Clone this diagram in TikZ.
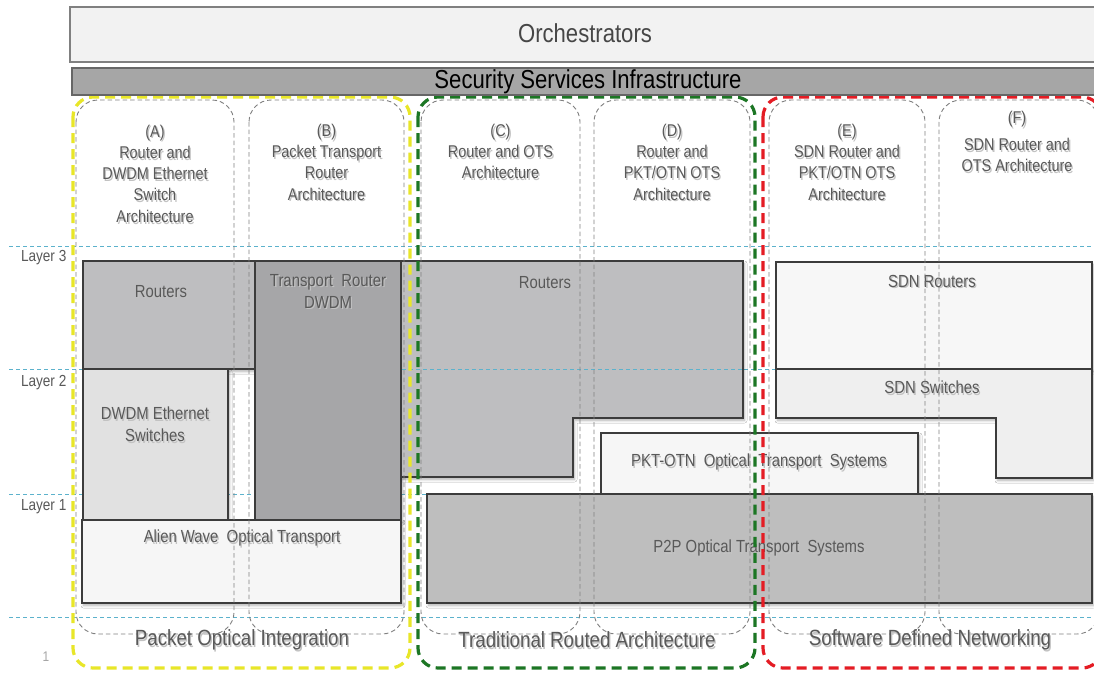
\documentclass[tikz,border=0pt]{standalone}
\usepackage{fontspec}
\setmainfont{Liberation Sans}[FakeStretch=0.85]
\usetikzlibrary{shadows,shadows.blur}

\definecolor{txtgray}{RGB}{89,89,89}
\definecolor{darktxt}{RGB}{70,70,70}
\definecolor{layerblue}{RGB}{92,178,204}
\definecolor{colgray}{RGB}{128,128,128}
\definecolor{boxline}{RGB}{60,60,60}
\definecolor{poiyellow}{RGB}{232,230,40}
\definecolor{tragreen}{RGB}{28,118,36}
\definecolor{sdnred}{RGB}{228,28,36}
\definecolor{orchfill}{RGB}{242,242,242}
\definecolor{secfill}{RGB}{166,166,166}
\definecolor{routerfill}{RGB}{190,190,192}
\definecolor{trfill}{RGB}{166,166,168}
\definecolor{ethfill}{RGB}{225,225,225}
\definecolor{palefill}{RGB}{246,246,246}
\definecolor{sdnrfill}{RGB}{247,247,247}
\definecolor{sdnsfill}{RGB}{239,239,239}
\definecolor{ptpfill}{RGB}{190,190,190}

% text with a soft offset shadow behind it
\newcommand\shd[1]{\leavevmode\rlap{\kern1.3pt\raisebox{-1.8pt}{\textcolor{black!24}{#1}}}#1}

\begin{document}
\begin{tikzpicture}[x=1pt,y=-1pt,
  every node/.style={inner sep=0pt,outer sep=0pt,text=txtgray},
  colbox/.style={draw=colgray,line width=0.9pt,dash pattern=on 4.5pt off 3pt,rounded corners=22pt},
  grpbox/.style={line width=3.2pt,dash pattern=on 10pt off 6pt,rounded corners=20pt},
  layerline/.style={draw=layerblue,line width=1pt,dash pattern=on 4pt off 3pt},
  blk/.style={draw=boxline,line width=1.2pt,
    blur shadow={shadow blur steps=6,shadow xshift=1.5pt,shadow yshift=-2.5pt,
      shadow blur radius=2.5pt,shadow opacity=30}},
  coltext/.style={align=center,font=\fontsize{17}{21.3}\selectfont},
  blktext/.style={align=center,font=\fontsize{17.5}{22}\selectfont},
  grptext/.style={font=\fontsize{22}{26}\selectfont},
  laytext/.style={anchor=west,font=\fontsize{16}{19}\selectfont},
  headtext/.style={font=\fontsize{26}{30}\selectfont}
]
\useasboundingbox (0,0) rectangle (1094,675);
\clip (0,0) rectangle (1094,675);
\fill[white] (0,0) rectangle (1094,675);

% layer guide lines
\foreach \yy in {246,369,494,617}
  \draw[layerline] (9,\yy) -- (1094,\yy);

% layer labels
\node[laytext] (lay3) at (21,258) {Layer 3};
\node[laytext] (lay2) at (21,383) {Layer 2};
\node[laytext] (lay1) at (21,507) {Layer 1};
\node[font=\fontsize{14}{16}\selectfont,text=black!35] (pnum) at (46,657) {1};

% network building blocks
\path[blk,fill=routerfill] (83,261) rectangle (255,369);
\node[blktext] (routersA) at (161,292) {\shd{Routers}};

\path[blk,fill=trfill] (255,261) rectangle (401,520);
\node[blktext] (transrt) at (328,292) {\shd{Transport~~Router}\\\shd{DWDM}};

\path[blk,fill=routerfill] (401,261) -- (743,261) -- (743,418) -- (573,418)
  -- (573,477) -- (401,477) -- cycle;
\draw[layerline] (402,369) -- (742,369);
\node[blktext] (routersC) at (545,283) {\shd{Routers}};

\path[blk,fill=sdnrfill] (776,262) rectangle (1092,369);
\node[blktext] (sdnrt) at (932,282) {\shd{SDN Routers}};

\path[blk,fill=sdnsfill] (776,369) -- (1092,369) -- (1092,478) -- (996,478)
  -- (996,418) -- (776,418) -- cycle;
\node[blktext] (sdnsw) at (932,388) {\shd{SDN Switches}};

\path[blk,fill=ethfill] (83,369) rectangle (228,520);
\node[blktext] (dwdmeth) at (155,425) {\shd{DWDM Ethernet}\\\shd{Switches}};

\path[blk,fill=palefill] (601,433) rectangle (918,494);
\node[blktext] (pktotn) at (759,463) {\shd{PKT-OTN~~Optical~~Transport~~Systems}};

\path[blk,fill=palefill] (82,520) rectangle (401,603);
\node[blktext] (alien) at (242,539) {\shd{Alien Wave~~Optical Transport}};

\path[blk,fill=ptpfill] (427,494) rectangle (1092,603);
\node[blktext] (ptp) at (759,549) {\shd{P2P Optical Transport~~Systems}};

% architecture columns
\foreach \xa/\xb in {76/234,249/404,421/580,594/750,769/925,939/1099}
  \draw[colbox] (\xa,100) rectangle (\xb,634);

\node[coltext] (hA) at (155,174.5) {\shd{(A)}\\\shd{Router and}\\\shd{DWDM Ethernet}\\\shd{Switch}\\\shd{Architecture}};
\node[coltext] (hB) at (326.5,163) {\shd{(B)}\\\shd{Packet Transport}\\\shd{Router}\\\shd{Architecture}};
\node[coltext] (hC) at (500.5,152.5) {\shd{(C)}\\\shd{Router and OTS}\\\shd{Architecture}};
\node[coltext] (hD) at (672,163) {\shd{(D)}\\\shd{Router and}\\\shd{PKT/OTN OTS}\\\shd{Architecture}};
\node[coltext] (hE) at (847,163) {\shd{(E)}\\\shd{SDN Router and}\\\shd{PKT/OTN OTS}\\\shd{Architecture}};
\node[coltext] (hF) at (1017,142.5) {\shd{(F)}\\[6pt]\shd{SDN Router and}\\\shd{OTS Architecture}};

% solution groups
\draw[grpbox,draw=poiyellow] (73,97) rectangle (410,668);
\draw[grpbox,draw=tragreen] (418,97) rectangle (755,668);
\draw[grpbox,draw=sdnred] (763,97) rectangle (1102,668);

\node[grptext] (gpoi) at (242,641) {\shd{Packet Optical Integration}};
\node[grptext] (gtra) at (587,641) {\shd{Traditional Routed Architecture}};
\node[grptext] (gsdn) at (930,641) {\shd{Software Defined Networking}};

% top bars
\path[draw=colgray,line width=1.3pt,fill=orchfill] (70,7) rectangle (1104,62);
\node[headtext,text=darktxt] (orch) at (585,33) {Orchestrators};
\path[draw=black!60,line width=1.3pt,fill=secfill] (72,68) rectangle (1104,95);
\node[headtext,text=black] (sec) at (588,82) {Security Services Infrastructure};
\end{tikzpicture}
\end{document}
